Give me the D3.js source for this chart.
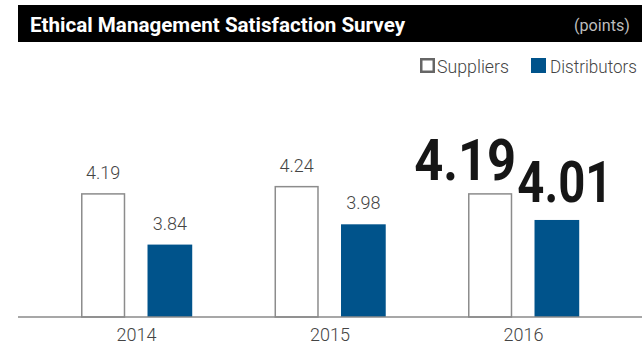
<!DOCTYPE html>
<html>
<head>
<meta charset="utf-8">
<script src="https://cdn.jsdelivr.net/npm/d3@7"></script>
<style>
  html, body { margin: 0; padding: 0; background: #fff; }
  svg { display: block; font-family: Roboto, "Noto Sans", sans-serif; }
</style>
</head>
<body>
<svg id="chart" width="642" height="346"></svg>
<script>
// Survey scores by year
const years = ["2014", "2015", "2016"];
const seriesNames = ["Suppliers", "Distributors"];
const suppliers = [4.19, 4.24, 4.19];
const distributors = [3.84, 3.98, 4.01];
const highlightYear = "2016";

const title = "Ethical Management Satisfaction Survey";
const unitLabel = "(points)";

const blue = "#00538b";
const outline = "#8c8c8c";
const textGray = "#444";

const svg = d3.select("#chart");
const W = 642, H = 346;
const baseY = 317;

const rows = years.map((y, i) => ({
  year: y,
  values: [
    { key: "Suppliers", value: suppliers[i] },
    { key: "Distributors", value: distributors[i] }
  ]
}));

// Scales
const x0 = d3.scaleBand()
  .domain(years)
  .range([39.75, 620.25])
  .paddingInner(0.424)
  .paddingOuter(0.212);

const x1 = d3.scaleBand()
  .domain(seriesNames)
  .range([0, x0.bandwidth()])
  .paddingInner(0.33);

const y = d3.scaleLinear()
  .domain([3.34, 4.5])
  .range([baseY, 149]);

// Header band
svg.append("rect")
  .attr("x", 18).attr("y", 5)
  .attr("width", W - 18).attr("height", 37)
  .attr("fill", "#000");

svg.append("text")
  .attr("x", 30).attr("y", 32)
  .attr("font-size", 21).attr("font-weight", 700)
  .attr("fill", "#fff")
  .attr("textLength", 375).attr("lengthAdjust", "spacingAndGlyphs")
  .text(title);

svg.append("text")
  .attr("x", 630).attr("y", 31)
  .attr("text-anchor", "end")
  .attr("font-size", 17)
  .attr("fill", "#bdbdbd")
  .attr("textLength", 56).attr("lengthAdjust", "spacingAndGlyphs")
  .text(unitLabel);

// Legend
const legend = svg.append("g");
const legendItems = [
  { name: seriesNames[0], x: 420, textW: 72 },
  { name: seriesNames[1], x: 531, textW: 87 }
];
legendItems.forEach(item => {
  const g = legend.append("g").attr("transform", `translate(${item.x},58)`);
  if (item.name === "Suppliers") {
    g.append("rect").attr("x", 1.25).attr("y", 1.25)
      .attr("width", 12.5).attr("height", 12.5)
      .attr("fill", "#fff").attr("stroke", "#666").attr("stroke-width", 2.5);
  } else {
    g.append("rect").attr("x", 0).attr("y", 0)
      .attr("width", 15).attr("height", 15)
      .attr("fill", blue);
  }
  g.append("text")
    .attr("x", item.name === "Suppliers" ? 17 : 19)
    .attr("y", 15)
    .attr("font-size", 18)
    .attr("font-weight", 300)
    .attr("fill", textGray)
    .attr("textLength", item.textW).attr("lengthAdjust", "spacingAndGlyphs")
    .text(item.name);
});

// Bars
const groups = svg.append("g")
  .selectAll("g")
  .data(rows)
  .join("g")
  .attr("transform", d => `translate(${x0(d.year)},0)`);

groups.selectAll("rect")
  .data(d => d.values)
  .join("rect")
  .attr("x", d => d.key === "Suppliers" ? x1(d.key) + 1 : x1(d.key))
  .attr("width", d => d.key === "Suppliers" ? x1.bandwidth() - 2 : x1.bandwidth())
  .attr("y", d => y(d.value))
  .attr("height", d => baseY - y(d.value))
  .attr("fill", d => d.key === "Suppliers" ? "#fff" : blue)
  .attr("stroke", d => d.key === "Suppliers" ? outline : "none")
  .attr("stroke-width", 1.5);

// Value labels
groups.each(function(row) {
  const g = d3.select(this);
  const big = row.year === highlightYear;
  row.values.forEach(d => {
    const cx = x1(d.key) + x1.bandwidth() / 2;
    if (big) {
      const isSup = d.key === "Suppliers";
      g.append("text")
        .attr("x", cx + (isSup ? -25 : 8))
        .attr("y", y(d.value) - (isSup ? 14 : 18))
        .attr("text-anchor", "middle")
        .attr("font-size", 58).attr("font-weight", 700)
        .attr("fill", "#161616")
        .attr("textLength", isSup ? 102 : 95).attr("lengthAdjust", "spacingAndGlyphs")
        .text(d3.format(".2f")(d.value));
    } else {
      g.append("text")
        .attr("x", cx)
        .attr("y", y(d.value) - 15)
        .attr("text-anchor", "middle")
        .attr("font-size", 18)
        .attr("font-weight", 300)
        .attr("fill", textGray)
        .text(d3.format(".2f")(d.value));
    }
  });
});

// Baseline and year axis
svg.append("line")
  .attr("x1", 18).attr("x2", W)
  .attr("y1", baseY).attr("y2", baseY)
  .attr("stroke", "#8a8a8a").attr("stroke-width", 1.5);

const axis = svg.append("g")
  .attr("transform", `translate(0,${baseY})`)
  .call(d3.axisBottom(x0).tickSize(0).tickPadding(11));
axis.select(".domain").remove();
axis.selectAll("text")
  .attr("font-size", 18)
  .attr("font-weight", 300)
  .attr("font-family", "Roboto, 'Noto Sans', sans-serif")
  .attr("fill", textGray);
</script>
</body>
</html>
